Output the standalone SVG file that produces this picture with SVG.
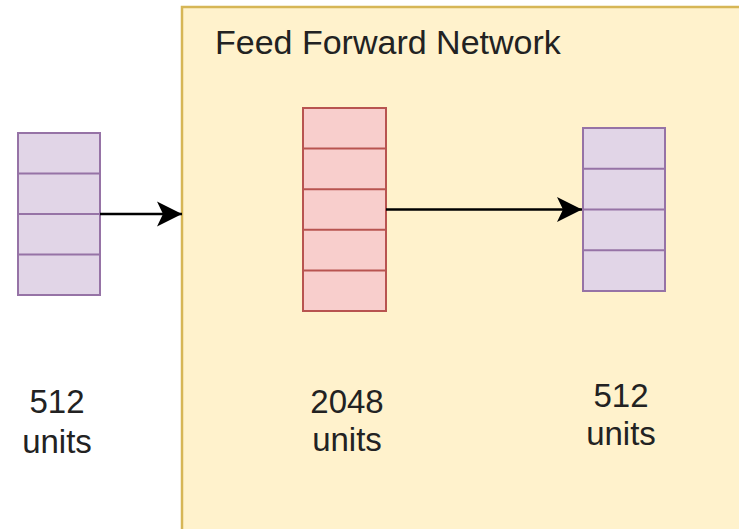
<svg xmlns="http://www.w3.org/2000/svg" width="739" height="529" viewBox="0 0 739 529">
  <defs>
    <style>
      .purple { fill: #e1d5e7; stroke: #9673a6; stroke-width: 2; }
      .red { fill: #f8cecc; stroke: #b85450; stroke-width: 2; }
      .purple-div { stroke: #9673a6; stroke-width: 2; }
      .red-div { stroke: #b85450; stroke-width: 2; }
      .label { font-family: "Liberation Sans", Arial, sans-serif; font-size: 33px; fill: #222; text-anchor: middle; }
      .title { font-family: "Liberation Sans", Arial, sans-serif; font-size: 34px; fill: #222; }
      .edge { fill: none; stroke: #000; stroke-width: 2.5; }
    </style>
    <marker id="arrowhead" markerUnits="userSpaceOnUse" markerWidth="28" markerHeight="28" viewBox="-26 -14 28 28" refX="0" refY="0" orient="auto">
      <path d="M0,0 L-25,-12.5 L-19,0 L-25,12.5 Z" fill="#000"/>
    </marker>
  </defs>

  <rect width="739" height="529" fill="#ffffff"/>

  <!-- container: feed forward network -->
  <g id="ffn">
    <rect x="182" y="7" width="580" height="540" fill="#fff2cc" stroke="#d6b656" stroke-width="2.5"/>
    <text class="title" x="215" y="54">Feed Forward Network</text>
  </g>

  <!-- input vector: 512 units -->
  <g id="input">
    <rect class="purple" x="18" y="133" width="82" height="162"/>
    <line class="purple-div" x1="18" y1="173.5" x2="100" y2="173.5"/>
    <line class="purple-div" x1="18" y1="214" x2="100" y2="214"/>
    <line class="purple-div" x1="18" y1="254.5" x2="100" y2="254.5"/>
    <text class="label" x="57" y="413">512</text>
    <text class="label" x="57" y="453">units</text>
  </g>

  <!-- hidden layer: 2048 units -->
  <g id="hidden">
    <rect class="red" x="303" y="108" width="83" height="203"/>
    <line class="red-div" x1="303" y1="148.6" x2="386" y2="148.6"/>
    <line class="red-div" x1="303" y1="189.2" x2="386" y2="189.2"/>
    <line class="red-div" x1="303" y1="229.8" x2="386" y2="229.8"/>
    <line class="red-div" x1="303" y1="270.4" x2="386" y2="270.4"/>
    <text class="label" x="347" y="413">2048</text>
    <text class="label" x="347" y="451">units</text>
  </g>

  <!-- output vector: 512 units -->
  <g id="output">
    <rect class="purple" x="583" y="128" width="82" height="163"/>
    <line class="purple-div" x1="583" y1="168.75" x2="665" y2="168.75"/>
    <line class="purple-div" x1="583" y1="209.5" x2="665" y2="209.5"/>
    <line class="purple-div" x1="583" y1="250.25" x2="665" y2="250.25"/>
    <text class="label" x="621" y="407">512</text>
    <text class="label" x="621" y="445">units</text>
  </g>

  <!-- connectors -->
  <g id="edges">
    <path class="edge" d="M100,214 L182,214" marker-end="url(#arrowhead)"/>
    <path class="edge" d="M386,209.5 L582,209.5" marker-end="url(#arrowhead)"/>
  </g>
</svg>
